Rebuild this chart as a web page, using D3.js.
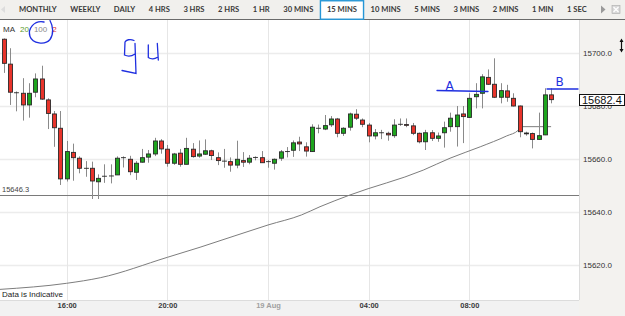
<!DOCTYPE html>
<html><head><meta charset="utf-8">
<script src="https://cdn.jsdelivr.net/npm/d3@7"></script>
<style>body{margin:0;background:#fff;overflow:hidden}svg{display:block}</style>
</head><body><svg id="c" width="625" height="316"></svg>
<script>
// ---------- data ----------
const times = ["18 13:30","18 13:45","18 14:00","18 14:15","18 14:30","18 14:45","18 15:00","18 15:15","18 15:30","18 15:45",
"18 16:00","18 16:15","18 16:30","18 16:45","18 17:00","18 17:15","18 17:30","18 17:45","18 18:00","18 18:15",
"18 18:30","18 18:45","18 19:00","18 19:15","18 19:30","18 19:45","18 20:00","18 20:15","18 20:30","18 20:45",
"18 21:00","18 21:15","18 21:30","18 21:45","18 22:00","18 22:15","18 22:30","18 22:45","18 23:00","18 23:15",
"18 23:30","18 23:45","19 00:00","19 00:15","19 00:30","19 00:45","19 01:00","19 01:15","19 01:30","19 01:45",
"19 02:00","19 02:15","19 02:30","19 02:45","19 03:00","19 03:15","19 03:30","19 03:45","19 04:00","19 04:15",
"19 04:30","19 04:45","19 05:00","19 05:15","19 05:30","19 05:45","19 06:00","19 06:15","19 06:30","19 06:45",
"19 07:00","19 07:15","19 07:30","19 07:45","19 08:00","19 08:15","19 08:30","19 08:45","19 09:00","19 09:15",
"19 09:30","19 09:45","19 10:00","19 10:15","19 10:30","19 10:45","19 11:00","19 11:15"];
const opens = [15705.2,15695.8,15685.0,15684.8,15680.4,15685.2,15690.2,15682.3,15677.0,15671.6,
15652.5,15662.5,15660.3,15656.5,15656.5,15651.4,15653.5,15653.6,15654.0,15660.5,
15659.9,15655.0,15658.8,15660.7,15661.9,15666.8,15663.7,15658.4,15662.2,15658.0,
15663.7,15661.1,15661.8,15663.1,15660.5,15659.2,15659.0,15657.7,15659.4,15658.8,
15660.6,15660.5,15659.0,15658.4,15660.3,15662.8,15663.3,15666.4,15664.6,15662.8,
15671.6,15671.3,15672.9,15675.1,15669.7,15672.0,15676.9,15674.7,15672.8,15668.7,
15669.9,15669.7,15668.8,15673.1,15673.0,15672.5,15669.7,15666.5,15669.9,15667.8,
15669.9,15672.2,15672.2,15677.0,15675.7,15683.5,15684.8,15690.8,15688.2,15683.3,
15685.7,15682.9,15680.0,15669.8,15669.6,15667.4,15669.1,15684.2];
const highs = [15705.5,15701.8,15685.5,15690.5,15688.6,15692.3,15695.2,15682.9,15678.1,15678.1,
15666.8,15665.8,15661.0,15659.2,15659.0,15654.2,15658.0,15658.0,15661.0,15661.0,
15661.2,15659.2,15663.8,15663.4,15668.0,15667.5,15665.3,15662.3,15663.8,15668.0,
15666.0,15667.0,15667.4,15663.5,15662.5,15663.8,15660.6,15666.9,15662.6,15661.5,
15661.0,15663.0,15659.6,15660.2,15663.4,15664.5,15667.0,15668.4,15666.3,15673.1,
15673.0,15676.6,15676.2,15675.5,15672.0,15677.5,15678.8,15675.3,15673.6,15671.3,
15671.0,15670.3,15675.0,15675.3,15675.3,15673.6,15670.0,15671.0,15670.9,15670.0,
15674.1,15677.5,15680.0,15680.0,15684.8,15688.6,15692.0,15693.8,15698.0,15688.6,
15688.0,15684.8,15680.2,15670.3,15670.0,15677.5,15686.7,15686.7];
const lows = [15692.5,15680.4,15678.0,15674.5,15675.6,15683.3,15682.3,15671.3,15664.6,15650.2,
15651.5,15651.8,15654.6,15653.3,15644.9,15644.9,15651.0,15650.8,15654.0,15656.8,
15653.9,15652.1,15658.6,15658.6,15661.1,15662.0,15657.1,15657.8,15657.1,15658.0,
15660.5,15660.5,15661.5,15659.6,15657.7,15656.7,15655.2,15656.5,15657.0,15658.0,
15659.5,15658.5,15656.7,15656.0,15659.3,15660.6,15660.8,15663.0,15660.9,15662.7,
15669.7,15670.9,15672.1,15668.2,15668.7,15670.7,15674.7,15672.0,15666.3,15667.4,
15667.5,15666.9,15668.0,15672.5,15672.0,15669.0,15665.9,15663.4,15666.8,15666.5,
15664.3,15670.3,15664.7,15666.0,15675.5,15679.1,15679.1,15688.0,15683.0,15681.0,
15681.6,15679.8,15668.2,15668.8,15664.0,15667.2,15669.0,15681.0];
const closes = [15696.1,15685.2,15685.0,15680.4,15684.8,15690.2,15682.6,15677.2,15671.8,15652.5,
15662.8,15660.5,15656.5,15656.5,15651.7,15652.7,15653.5,15653.6,15660.3,15660.5,
15655.2,15658.4,15660.5,15661.9,15666.8,15663.8,15658.4,15661.9,15658.0,15664.0,
15660.9,15661.9,15663.1,15661.3,15659.4,15659.2,15657.7,15659.9,15658.8,15660.3,
15660.6,15658.6,15659.0,15659.9,15662.7,15662.8,15666.1,15665.7,15663.0,15672.0,
15671.6,15672.6,15675.1,15669.7,15671.6,15677.0,15675.4,15673.1,15668.7,15669.9,
15669.9,15669.1,15672.8,15673.1,15672.7,15669.7,15666.5,15669.9,15667.8,15668.7,
15671.8,15675.4,15676.6,15676.0,15682.9,15684.4,15691.0,15688.2,15683.3,15685.8,
15683.3,15680.0,15670.3,15669.5,15667.4,15668.8,15684.2,15682.4];
// MA(100) line, read at points along the curve
const maTimes = ["18 13:21","18 16:00","18 17:20","18 20:00","18 21:18","19 00:00","19 01:20","19 02:04","19 03:15","19 06:10","19 07:14","19 08:26","19 09:29","19 09:57","19 10:00","19 11:15"];
const maValues = [15610.8,15613.1,15615.2,15622.9,15626.7,15635.1,15638.9,15642.0,15646.4,15655.8,15660.3,15664.6,15668.7,15670.9,15672.2,15672.2];
const yTicks = [15620,15640,15660,15680,15700];
const xTickTimes = ["18 16:00","18 20:00","19 00:00","19 04:00","19 08:00"];
const xTickLabels = ["16:00","20:00","19 Aug","04:00","08:00"];
const toolbarLabels = ["MONTHLY","WEEKLY","DAILY","4 HRS","3 HRS","2 HRS","1 HR","30 MINS","15 MINS","10 MINS","5 MINS","3 MINS","2 MINS","1 MIN","1 SEC"];
const selectedLabel = "15 MINS";
const refLevel = 15646.3;
const lastPrice = 15682.4;
const legendItems = ["MA","20","100","2"];
const legendColors = ["#333","#5c9c2c","#8a8a8a","#e0302a"];

// ---------- setup ----------
const parse = s => { const [d, hm] = s.split(" "); const [h, m] = hm.split(":").map(Number); return new Date(2013, 7, +d, h, m); };
const svg = d3.select("#c");
const W = 625, H = 316, PR = 579, PT = 20, PB = 300;
const x = d3.scaleTime().domain([new Date(2013,7,18,13,21,0), new Date(2013,7,19,12,21,30)]).range([0, PR]);
const y = d3.scaleLinear().domain([15600, 15720]).range([318, 0]);
const candles = times.map((t,i)=>({t:parse(t),o:opens[i],h:highs[i],l:lows[i],c:closes[i]}));

// backgrounds
svg.append("rect").attr("width",W).attr("height",H).attr("fill","#fff");
svg.append("rect").attr("x",PR).attr("y",PT).attr("width",W-PR).attr("height",H-PT).attr("fill","#f3f2ef");
svg.append("rect").attr("x",0).attr("y",PB).attr("width",PR).attr("height",H-PB).attr("fill","#f2f2f2");
svg.append("line").attr("x1",PR+0.5).attr("x2",PR+0.5).attr("y1",PT).attr("y2",PB).attr("stroke","#dcdcdc");
svg.append("line").attr("x1",0).attr("x2",PR).attr("y1",PB+0.5).attr("y2",PB+0.5).attr("stroke","#dcdcdc");

svg.append("clipPath").attr("id","plot").append("rect").attr("x",0).attr("y",PT).attr("width",PR).attr("height",PB-PT);
const plot = svg.append("g").attr("clip-path","url(#plot)");

// grid
plot.selectAll(".hg").data(yTicks).join("line")
  .attr("x1",0).attr("x2",PR).attr("y1",d=>Math.round(y(d))+0.5).attr("y2",d=>Math.round(y(d))+0.5)
  .attr("stroke","#ececec").attr("stroke-width",1.4);
plot.selectAll(".vg").data(xTickTimes.map(parse)).join("line")
  .attr("x1",d=>Math.round(x(d))+0.5).attr("x2",d=>Math.round(x(d))+0.5).attr("y1",PT).attr("y2",PB)
  .attr("stroke","#e6e6e6").attr("stroke-width",1);

// reference level line
plot.append("line").attr("x1",0).attr("x2",PR).attr("y1",Math.round(y(refLevel))+0.5).attr("y2",Math.round(y(refLevel))+0.5)
  .attr("stroke","#7a7a7a").attr("stroke-width",1);
svg.append("text").attr("x",2).attr("y",y(refLevel)-3).attr("font-family","Liberation Sans, Arial, sans-serif")
  .attr("font-size",7.5).attr("fill","#444").text(refLevel.toFixed(1));

// MA line
plot.append("path").datum(maTimes.map((t,i)=>[parse(t),maValues[i]]))
  .attr("d",d3.line().x(d=>x(d[0])).y(d=>y(d[1])).curve(d3.curveMonotoneX))
  .attr("fill","none").attr("stroke","#7d7d7d").attr("stroke-width",1);

// candles
const cg = plot.selectAll(".cd").data(candles).join("g");
cg.append("line")
  .attr("x1",d=>Math.round(x(d.t))+0.5).attr("x2",d=>Math.round(x(d.t))+0.5)
  .attr("y1",d=>y(d.h)).attr("y2",d=>y(d.l)).attr("stroke","#8a8a8a").attr("stroke-width",1);
cg.append("rect")
  .attr("x",d=>Math.round(x(d.t))-1.5).attr("width",4)
  .attr("y",d=>y(Math.max(d.o,d.c)))
  .attr("height",d=>Math.max(0.01, Math.abs(y(d.o)-y(d.c))))
  .attr("fill",d=>d.c>d.o?"#1ea51e":(d.c<d.o?"#e8342b":"#333"))
  .attr("stroke","#2a2a2a").attr("stroke-width",0.9);

// axes
const yAxis = svg.append("g").attr("transform",`translate(583,0)`)
  .call(d3.axisRight(y).tickValues(yTicks).tickFormat(d3.format(".1f")).tickSize(0).tickPadding(0));
yAxis.select(".domain").remove();
yAxis.selectAll("text").attr("font-family","Liberation Sans, Arial, sans-serif").attr("font-size",8).attr("fill","#333");

const xAxis = svg.append("g").attr("transform",`translate(0,${PB})`)
  .call(d3.axisBottom(x).tickValues(xTickTimes.map(parse)).tickFormat((d,i)=>xTickLabels[i]).tickSize(0).tickPadding(3));
xAxis.select(".domain").remove();
xAxis.selectAll("text").attr("font-family","Liberation Sans, Arial, sans-serif").attr("font-size",7.5)
  .attr("font-weight","bold").attr("fill",(d,i)=>xTickLabels[i]==="19 Aug"?"#a0a0a0":"#3a3a3a");

// last price box
svg.append("rect").attr("x",579.5).attr("y",94.5).attr("width",45).attr("height",11).attr("fill","#fff").attr("stroke","#111");
svg.append("text").attr("x",582).attr("y",y(lastPrice)+4).attr("font-family","Liberation Sans, Arial, sans-serif")
  .attr("font-size",11).attr("fill","#111").text(lastPrice.toFixed(1));

// data is indicative
svg.append("text").attr("x",2).attr("y",297).attr("font-family","Liberation Sans, Arial, sans-serif")
  .attr("font-size",8).attr("fill","#222").text("Data is Indicative");

// legend
const lg = svg.append("text").attr("x",3).attr("y",32).attr("font-family","Liberation Sans, Arial, sans-serif").attr("font-size",8);
legendItems.forEach((t,i)=>lg.append("tspan").attr("dx",i?5:0).attr("fill",legendColors[i]).text(t));

// toolbar
svg.append("rect").attr("width",W).attr("height",19).attr("fill","#f1f0ed");
svg.append("line").attr("x1",0).attr("x2",W).attr("y1",19.5).attr("y2",19.5).attr("stroke","#6a6a6a");
const tb = svg.append("g");
const tts = tb.selectAll("text").data(toolbarLabels).join("text")
  .attr("y",12.2).attr("font-family","Lato, 'Open Sans', sans-serif").attr("font-weight","bold")
  .attr("font-size",7.6).attr("fill","#3a3a3a").text(d=>d);
const widths = tts.nodes().map(n=>n.getComputedTextLength());
const tbStart = 19, tbEnd = 586.7;
const gap = (tbEnd - tbStart - d3.sum(widths)) / (toolbarLabels.length - 1);
let cx = tbStart; const pos = [];
widths.forEach(w=>{pos.push(cx); cx += w + gap;});
tts.attr("x",(d,i)=>pos[i]);
const si = toolbarLabels.indexOf(selectedLabel);
tb.insert("rect","text").attr("x",pos[si]-6.5).attr("y",0.75).attr("width",widths[si]+13).attr("height",18.5)
  .attr("fill","#fff").attr("stroke","#2596d6").attr("stroke-width",1.4);
// nav icons
svg.append("path").attr("d","M1,9.5 L5,6 L5,13 Z").attr("fill","#ddd");
svg.append("path").attr("d","M601,5.5 L605.5,9.5 L601,13.5 Z").attr("fill","#9a9a9a");
svg.append("rect").attr("x",612).attr("y",5.5).attr("width",8).attr("height",8).attr("fill","#d8d8d8").attr("stroke","#aaa").attr("stroke-width",0.6);
svg.append("path").attr("d","M613.5,7 L618.5,12 M618.5,7 L613.5,12").attr("stroke","#fff").attr("stroke-width",1.2);
// resize cursor
svg.append("path").attr("d","M621.5,40 L621.5,51").attr("stroke","#111").attr("stroke-width",1.2);
svg.append("path").attr("d","M619.5,42 L621.5,38.5 L623.5,42 Z M619.5,49 L621.5,52.5 L623.5,49 Z").attr("fill","#111");

// hand-drawn annotations
const blue = "#1f2fe0";
const ann = svg.append("g").attr("fill","none").attr("stroke",blue).attr("stroke-width",1.3).attr("stroke-linecap","round");
ann.append("path").attr("d","M44,22 C34,20 27.5,29 30,36.5 C32.5,43.5 45,45.5 50,39.5 C54,34 53,26 50,20.5");
ann.append("path").attr("d","M134,40.5 C130,38.5 126,40 125,42 L124.5,55 C127.5,56.5 132,56 135,54 M135,43.5 L136,73.5 L122,70.5");
ann.append("path").attr("d","M148.3,45 L148.3,57.5 C151,59.5 155,59 157,57.5 M157.3,43.3 L158.3,60");
ann.append("path").attr("d","M437,90.5 L488,91.5");
ann.append("path").attr("d","M547,89 L578,89");
svg.append("text").attr("x",445.5).attr("y",89.5).attr("font-family","DejaVu Sans, sans-serif").attr("font-size",12)
  .attr("fill",blue).text("A");
svg.append("text").attr("x",555.5).attr("y",86).attr("font-family","DejaVu Sans, sans-serif").attr("font-size",12)
  .attr("fill",blue).text("B");
</script></body></html>
